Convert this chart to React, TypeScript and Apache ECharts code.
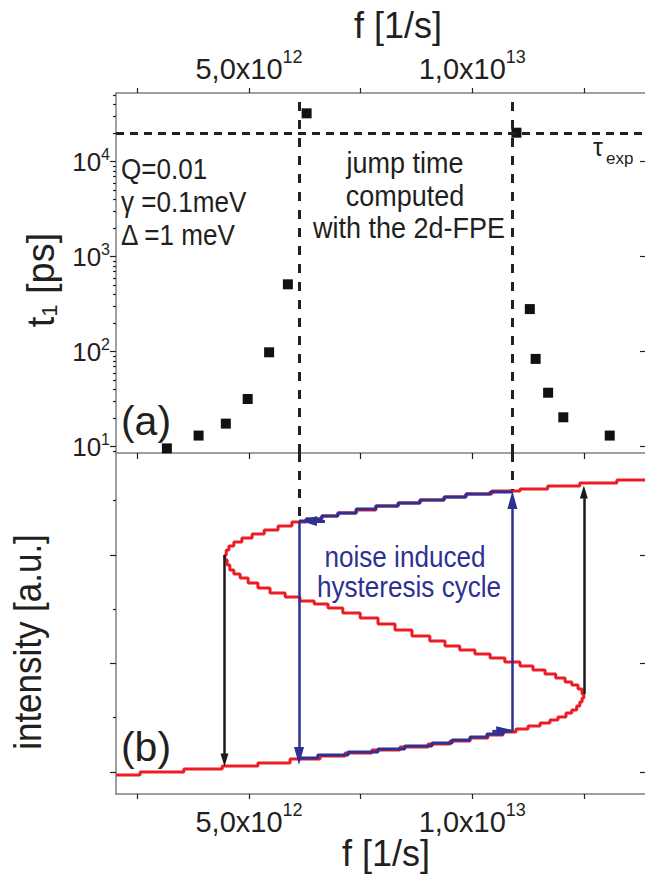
import { useEffect, useRef } from 'react';
import * as echarts from 'echarts';

// ---------- data (f in units of 1e12 1/s) ----------
// panel (a): jump time t1 [ps]
const jumpLeftF = [3.16, 3.87, 4.48, 4.97, 5.45, 5.87, 6.29];
const jumpLeftT = [9.6, 13.1, 17.5, 31.8, 98.6, 512, 32300];
const jumpRightF = [10.99, 11.29, 11.42, 11.7, 12.04, 13.08];
const jumpRightT = [20200, 281, 84, 37, 20.4, 13.1];
const tauExp = 20000;
const fJumpDown = 6.12; // noise induced jump down (upper -> lower branch)
const fJumpUp = 10.9; // noise induced jump up (lower -> upper branch)

// panel (b): S-shaped stationary intensity curve (staircase corners)
const sCurveF = [2.02, 2.56, 3.54, 4.4, 5.2, 5.92, 6.59, 7.15, 7.75, 8.38, 9.01, 9.5, 9.95, 10.35, 10.69, 10.98, 11.25, 11.52, 11.74, 11.92, 12.1, 12.23, 12.34, 12.41, 12.46, 12.5, 12.46, 12.37, 12.23, 12.08, 11.87, 11.63, 11.36, 11.07, 10.73, 10.4, 10.06, 9.72, 9.39, 9.05, 8.65, 8.27, 7.89, 7.49, 7.1, 6.77, 6.46, 6.14, 5.81, 5.47, 5.2, 4.98, 4.8, 4.66, 4.57, 4.51, 4.46, 4.49, 4.55, 4.66, 4.84, 5.07, 5.34, 5.65, 5.96, 6.28, 6.63, 6.99, 7.4, 7.84, 8.34, 8.83, 9.37, 9.86, 10.44, 11.07, 11.69, 12.41, 13.24, 13.87];
const sCurveI = [-0.028, 0, 0.028, 0.055, 0.083, 0.12, 0.147, 0.175, 0.203, 0.23, 0.258, 0.286, 0.313, 0.341, 0.369, 0.396, 0.424, 0.452, 0.479, 0.507, 0.544, 0.571, 0.608, 0.645, 0.682, 0.719, 0.765, 0.802, 0.83, 0.866, 0.903, 0.94, 0.977, 1.014, 1.051, 1.088, 1.124, 1.161, 1.207, 1.253, 1.309, 1.364, 1.419, 1.465, 1.512, 1.548, 1.576, 1.613, 1.65, 1.696, 1.742, 1.788, 1.825, 1.862, 1.908, 1.954, 2.0, 2.046, 2.083, 2.12, 2.157, 2.194, 2.23, 2.267, 2.304, 2.332, 2.36, 2.387, 2.415, 2.452, 2.479, 2.507, 2.535, 2.562, 2.59, 2.608, 2.636, 2.664, 2.691, 2.691];

// blue hysteresis cycle
const lowerF = [6.12, 6.54, 7.22, 7.89, 8.49, 9.1, 9.55, 9.95, 10.33, 10.69, 10.9];
const lowerI = [0.129, 0.157, 0.184, 0.212, 0.24, 0.267, 0.295, 0.323, 0.35, 0.378, 0.378];
const upperF = [10.9, 10.4, 9.86, 9.37, 8.83, 8.34, 7.84, 7.4, 6.99, 6.63, 6.28, 6.12];
const upperI = [2.581, 2.562, 2.535, 2.507, 2.479, 2.452, 2.424, 2.387, 2.36, 2.332, 2.313, 2.313];

// arrows [f, fromI, toI]
const blackArrows = [[4.45, 2.0, 0.111], [12.5, 0.719, 2.581]];
const blueArrows = [[fJumpDown, 2.313, 0.147], [fJumpUp, 0.37, 2.507]];
// blue arrowheads along the branches [f0, i0, f1, i1]
const blueHeads = [[10.45, 0.372, 10.72, 0.38], [6.7, 2.313, 6.34, 2.313]];
// dashed guides in panel (b) [f, topI, bottomI]
const dashedB = [[fJumpDown, 2.94, 2.33], [fJumpUp, 2.94, 2.6]];

// axes
const fRange = [2.02, 13.87];
const tRange = [8.586, 52870];
const iRange = [-0.203, 2.94];
const fTicks = [2.5, 5, 7.5, 10, 12.5];
const fLabels = [5, 10];
const tDecades = [10, 100, 1000, 10000];
const tMinor = [9, 20, 30, 40, 50, 60, 70, 80, 90, 200, 300, 400, 500, 600, 700, 800, 900, 2000, 3000, 4000, 5000, 6000, 7000, 8000, 9000, 20000, 30000, 40000, 50000];
const iMajor = [0, 1, 2];
const iMinor = [0.5, 1.5, 2.5];

const FONT = "'Liberation Sans', Arial, sans-serif";
const INK = '#231f20';
const RED = '#ed1c24';
const BLUE = '#2e3192';
const AXIS = '#808080';

const fmtF = (v: number) => {
  const x = v * 1e12;
  const e = Math.floor(Math.log10(x) + 1e-9);
  const m = (x / Math.pow(10, e)).toFixed(1).replace('.', ',');
  return `{m|${m}x10}{s|${e}}`;
};
const fmtT = (v: number) => `{m|10}{s|${Math.round(Math.log10(v))}}`;

const zip = (a: number[], b: number[]) => a.map((v, i) => [v, b[i]]);

const noLabel = { show: false };
const noSplit = { show: false };

function text(t: string, x: number, y: number, size: number, opts: any = {}) {
  const align = opts.align || 'left';
  return {
    type: 'text',
    x,
    y,
    scaleX: opts.scaleX || 1,
    scaleY: 1,
    rotation: opts.rotation || 0,
    silent: true,
    style: {
      text: t,
      fill: opts.color || INK,
      fontSize: size,
      fontFamily: FONT,
      align,
      textAlign: align,
      verticalAlign: 'middle',
      textVerticalAlign: 'middle',
      rich: opts.rich,
    },
  };
}

function buildOption(): any {
  const xLabelRich = {
    m: { fontSize: 29, lineHeight: 42, color: INK, fontFamily: FONT },
    s: { fontSize: 18, verticalAlign: 'top', color: INK, fontFamily: FONT },
  };
  const yLabelRich = {
    m: { fontSize: 26, lineHeight: 30, color: INK, fontFamily: FONT },
    s: { fontSize: 16, verticalAlign: 'top', color: INK, fontFamily: FONT },
  };
  const axisLine = { show: true, onZero: false, lineStyle: { color: AXIS, width: 1.5 } };
  const tickStyle = { color: INK, width: 1.2 };

  const arrowLine = (f: number, a: number, b: number, color: string, width: number, size: number[]) => [
    { coord: [f, a], symbol: 'none', lineStyle: { color, width, type: 'solid' } },
    { coord: [f, b], symbol: 'triangle', symbolSize: size },
  ];

  const markB: any[] = [];
  dashedB.forEach(([f, a, b]) =>
    markB.push([
      { coord: [f, a], symbol: 'none', lineStyle: { color: INK, width: 3, type: [9, 9] } },
      { coord: [f, b], symbol: 'none' },
    ])
  );
  blackArrows.forEach(([f, a, b]) => markB.push(arrowLine(f, a, b, '#1a1a1a', 2.5, [8, 13])));
  blueArrows.forEach(([f, a, b]) => markB.push(arrowLine(f, a, b, BLUE, 2.5, [10, 18])));
  blueHeads.forEach(([f0, i0, f1, i1]) =>
    markB.push([
      { coord: [f0, i0], symbol: 'none', lineStyle: { color: BLUE, width: 3, type: 'solid' } },
      { coord: [f1, i1], symbol: 'triangle', symbolSize: [10, 16] },
    ])
  );

  return {
    animation: false,
    backgroundColor: '#ffffff',
    textStyle: { fontFamily: FONT },
    grid: [
      { left: 116, top: 93, right: 0, height: 360 },
      { left: 116, top: 453, right: 0, height: 341 },
    ],
    xAxis: [
      {
        gridIndex: 0, type: 'value', position: 'top', min: fRange[0], max: fRange[1],
        axisLine, splitLine: noSplit,
        axisTick: { show: true, customValues: fTicks, length: 5, lineStyle: tickStyle },
        axisLabel: { show: true, customValues: fLabels, formatter: fmtF, rich: xLabelRich, margin: 3 },
      },
      {
        gridIndex: 0, type: 'value', position: 'bottom', min: fRange[0], max: fRange[1],
        axisLine, splitLine: noSplit,
        axisTick: { show: true, customValues: fTicks, length: 6, lineStyle: tickStyle },
        axisLabel: noLabel,
      },
      {
        gridIndex: 1, type: 'value', position: 'bottom', min: fRange[0], max: fRange[1],
        axisLine, splitLine: noSplit,
        axisTick: { show: true, customValues: fTicks, length: 5, lineStyle: tickStyle },
        axisLabel: { show: true, customValues: fLabels, formatter: fmtF, rich: xLabelRich, margin: 7 },
      },
    ],
    yAxis: [
      {
        gridIndex: 0, type: 'log', position: 'left', min: tRange[0], max: tRange[1],
        axisLine, splitLine: noSplit,
        axisTick: { show: true, customValues: tDecades, length: 6, lineStyle: tickStyle },
        axisLabel: { show: true, customValues: tDecades, formatter: fmtT, rich: yLabelRich, margin: 6 },
      },
      {
        gridIndex: 0, type: 'log', position: 'left', min: tRange[0], max: tRange[1],
        axisLine: { show: false, onZero: false }, splitLine: noSplit,
        axisTick: { show: true, customValues: tMinor, length: 3, lineStyle: tickStyle },
        axisLabel: noLabel,
      },
      {
        gridIndex: 0, type: 'log', position: 'right', min: tRange[0], max: tRange[1],
        axisLine: { show: false, onZero: false }, splitLine: noSplit,
        axisTick: { show: true, inside: true, customValues: tDecades, length: 5, lineStyle: tickStyle },
        axisLabel: noLabel,
      },
      {
        gridIndex: 1, type: 'value', position: 'left', min: iRange[0], max: iRange[1],
        axisLine, splitLine: noSplit,
        axisTick: { show: true, customValues: iMajor, length: 6, lineStyle: tickStyle },
        axisLabel: noLabel,
      },
      {
        gridIndex: 1, type: 'value', position: 'left', min: iRange[0], max: iRange[1],
        axisLine: { show: false, onZero: false }, splitLine: noSplit,
        axisTick: { show: true, customValues: iMinor, length: 3, lineStyle: tickStyle },
        axisLabel: noLabel,
      },
      {
        gridIndex: 1, type: 'value', position: 'right', min: iRange[0], max: iRange[1],
        axisLine: { show: false, onZero: false }, splitLine: noSplit,
        axisTick: { show: true, inside: true, customValues: iMajor, length: 5, lineStyle: tickStyle },
        axisLabel: noLabel,
      },
    ],
    series: [
      {
        type: 'scatter', xAxisIndex: 0, yAxisIndex: 0,
        data: [...zip(jumpLeftF, jumpLeftT), ...zip(jumpRightF, jumpRightT)],
        symbol: 'rect', symbolSize: 10, itemStyle: { color: '#111111', opacity: 1 }, z: 4,
        markLine: {
          silent: true, symbol: 'none', label: { show: false }, emphasis: { disabled: true },
          lineStyle: { color: INK, width: 3, type: [8, 6] },
          data: [
            { yAxis: tauExp },
            { xAxis: fJumpDown, lineStyle: { type: [9, 9] } },
            { xAxis: fJumpUp, lineStyle: { type: [9, 9] } },
          ],
        },
      },
      {
        type: 'line', xAxisIndex: 2, yAxisIndex: 3, data: zip(sCurveF, sCurveI),
        step: 'end', showSymbol: false, symbol: 'none', lineStyle: { color: RED, width: 3 }, z: 2,
      },
      {
        type: 'line', xAxisIndex: 2, yAxisIndex: 3, data: zip(lowerF, lowerI),
        step: 'end', showSymbol: false, symbol: 'none', lineStyle: { color: BLUE, width: 3 }, z: 3,
      },
      {
        type: 'line', xAxisIndex: 2, yAxisIndex: 3, data: zip(upperF, upperI),
        step: 'end', showSymbol: false, symbol: 'none', lineStyle: { color: BLUE, width: 3 }, z: 3,
        markLine: {
          silent: true, label: { show: false }, emphasis: { disabled: true },
          data: markB,
        },
      },
    ],
    graphic: {
      elements: [
        text('f [1/s]', 398, 25, 36, { align: 'center' }),
        text('f [1/s]', 386, 853, 36, { align: 'center' }),
        text('Q=0.01', 121, 169, 29, { scaleX: 0.9 }),
        text('γ =0.1meV', 121, 202, 29, { scaleX: 0.9 }),
        text('Δ =1 meV', 121, 235, 29, { scaleX: 0.9 }),
        text('jump time', 405, 162, 30, { align: 'center', scaleX: 0.9 }),
        text('computed', 405, 195, 30, { align: 'center', scaleX: 0.9 }),
        text('with the 2d-FPE', 409, 227, 30, { align: 'center', scaleX: 0.9 }),
        text('τ', 593, 147, 25),
        text('exp', 606, 158, 17),
        text('(a)', 146, 421, 41, { align: 'center' }),
        text('(b)', 146, 747, 41, { align: 'center' }),
        text('noise induced', 405, 557, 30, { align: 'center', scaleX: 0.87, color: BLUE }),
        text('hysteresis cycle', 409, 587, 30, { align: 'center', scaleX: 0.87, color: BLUE }),
        text('{a|t}{b|1}{a| [ps]}', 41, 280, 38, {
          align: 'center', rotation: Math.PI / 2,
          rich: {
            a: { fontSize: 38, fontFamily: FONT, fill: INK, color: INK },
            b: { fontSize: 22, fontFamily: FONT, verticalAlign: 'bottom', fill: INK, color: INK },
          },
        }),
        text('intensity [a.u.]', 28, 642, 38, { align: 'center', rotation: Math.PI / 2, scaleX: 0.92 }),
      ],
    },
  };
}

export default function App() {
  const ref = useRef<HTMLDivElement>(null);
  useEffect(() => {
    if (!ref.current) return;
    const chart = echarts.init(ref.current, undefined, { renderer: 'svg' });
    chart.setOption(buildOption());
    return () => chart.dispose();
  }, []);
  return (
    <div
      ref={ref}
      style={{ position: 'fixed', left: 0, top: 0, width: 645, height: 882, background: '#fff' }}
    />
  );
}
